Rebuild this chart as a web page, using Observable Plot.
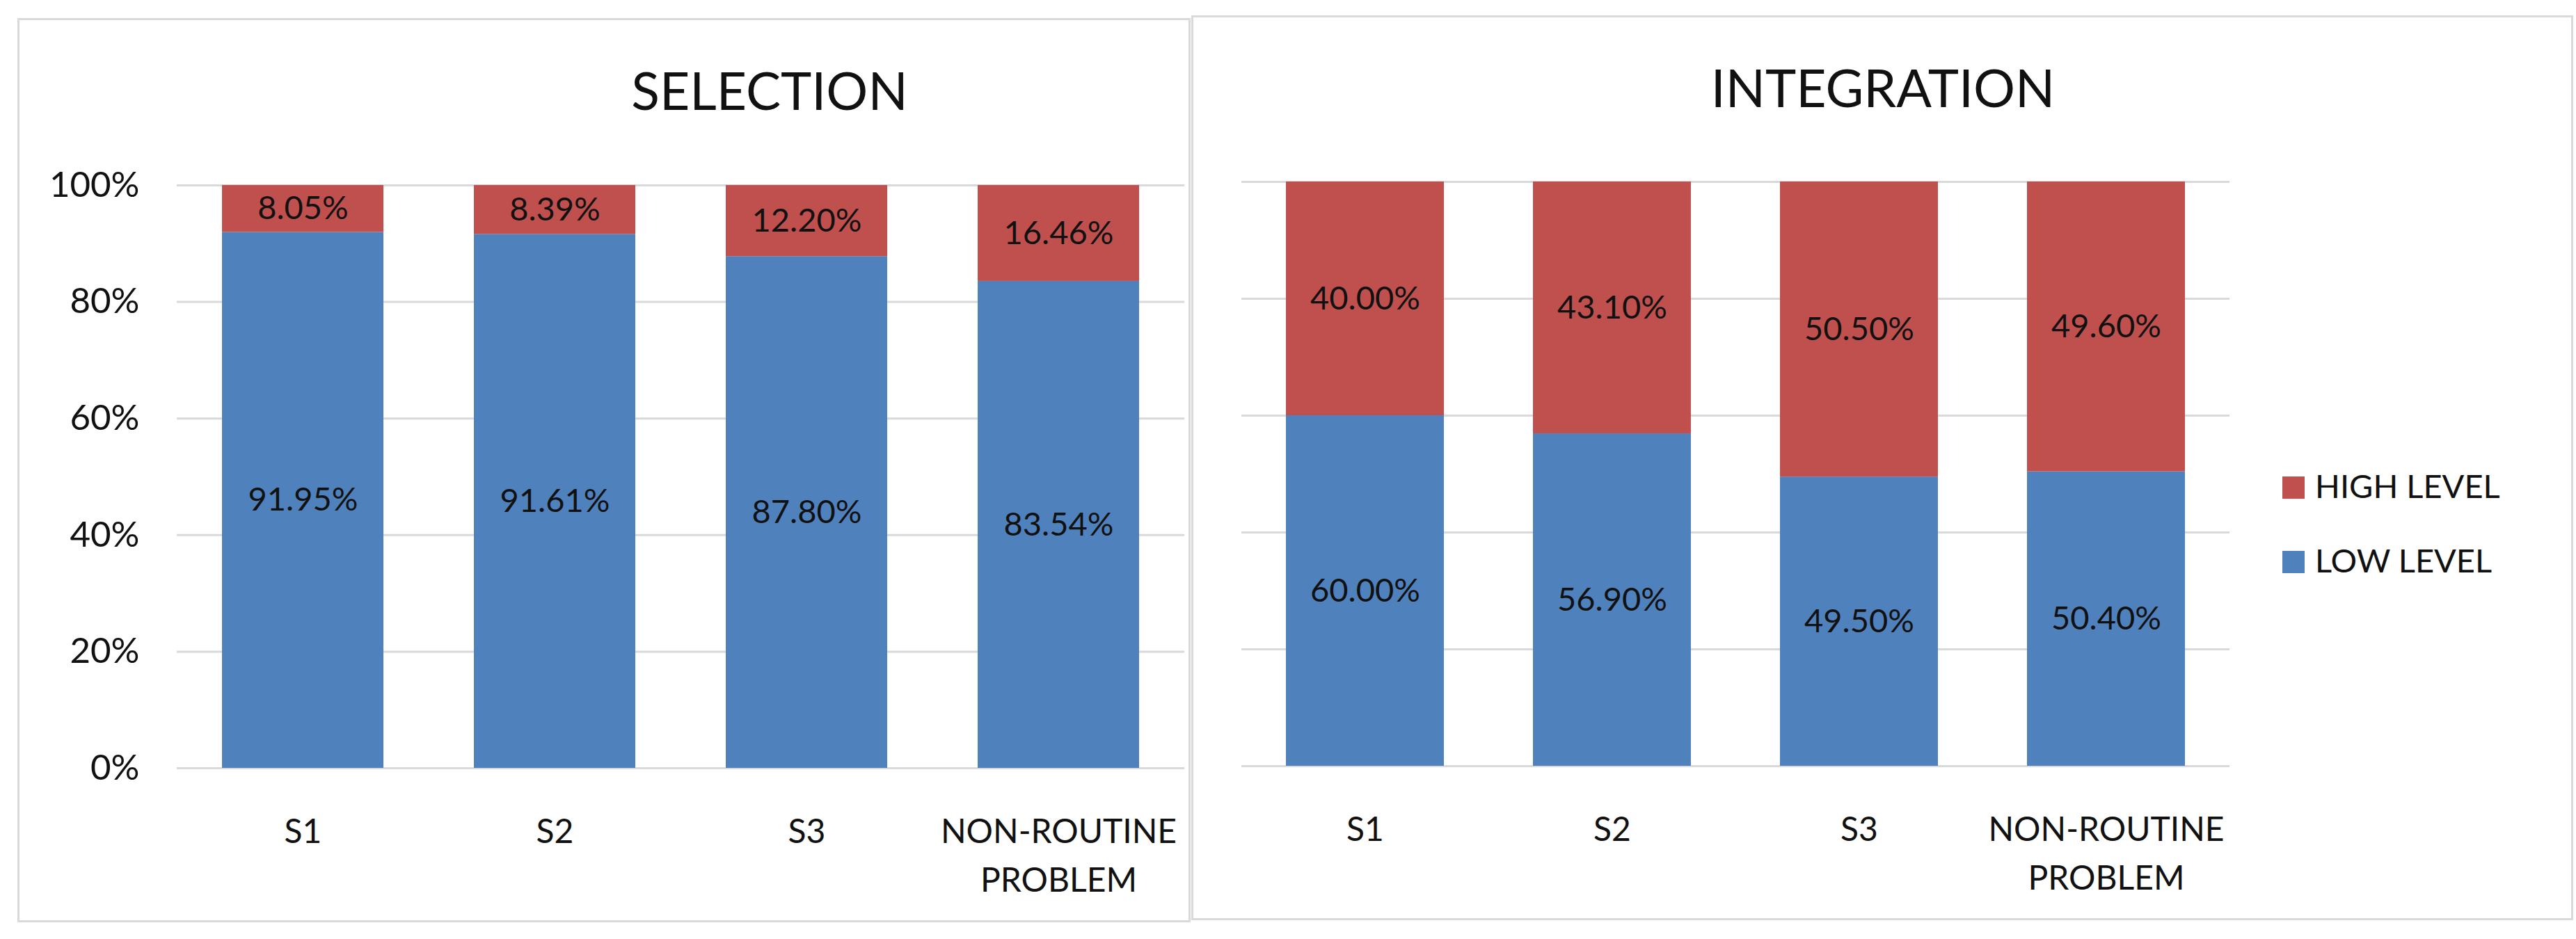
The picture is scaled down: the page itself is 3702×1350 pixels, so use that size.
<!DOCTYPE html>
<html>
<head>
<meta charset="utf-8">
<script src="https://cdn.jsdelivr.net/npm/d3@7"></script>
<script src="https://cdn.jsdelivr.net/npm/@observablehq/plot@0.6"></script>
<style>
  html, body { margin: 0; padding: 0; background: #ffffff; }
  #page { position: relative; width: 3702px; height: 1350px; overflow: hidden; background: #fff; font-family: Lato, "Open Sans", sans-serif; }
  .panel { position: absolute; box-sizing: border-box; border: 3px solid #d9d9d9; background: #fff; }
  .chart { position: absolute; }
  .title { position: absolute; text-align: center; font-size: 75px; line-height: 75px; color: #111; white-space: nowrap; }
  .lg-sw { position: absolute; width: 32px; height: 32px; }
  .lg-tx { position: absolute; font-size: 47px; line-height: 47px; color: #111; white-space: nowrap; }
</style>
</head>
<body>
<div id="page"></div>
<script>
// ---- data ----
const categories = ["S1", "S2", "S3", "NON-ROUTINE PROBLEM"];
const tickLabels = ["S1", "S2", "S3", "NON-ROUTINE\nPROBLEM"];
const levels = ["LOW LEVEL", "HIGH LEVEL"];
const levelColors = ["#4F81BD", "#C0504D"];
const selectionLow = [91.95, 91.61, 87.80, 83.54];
const selectionHigh = [8.05, 8.39, 12.20, 16.46];
const integrationLow = [60.00, 56.90, 49.50, 50.40];
const integrationHigh = [40.00, 43.10, 50.50, 49.60];
const yTicks = [0, 20, 40, 60, 80, 100];
const titles = ["SELECTION", "INTEGRATION"];
const legendOrder = ["HIGH LEVEL", "LOW LEVEL"];

function buildTable(low, high) {
  const rows = [];
  categories.forEach((c, i) => {
    rows.push({category: c, level: levels[0], value: low[i]});
    rows.push({category: c, level: levels[1], value: high[i]});
  });
  return rows;
}

function chart(low, high, o) {
  const data = buildTable(low, high);
  const marks = [
    Plot.gridY(yTicks, {stroke: "#d9d9d9", strokeWidth: 3, strokeOpacity: 1}),
    Plot.barY(data, Plot.stackY({x: "category", y: "value", z: "level", fill: "level"})),
    Plot.textY(data, Plot.stackY({x: "category", y: "value", z: "level",
      text: d => d.value.toFixed(2) + "%", fill: "#111", fontSize: 47})),
    Plot.axisX({tickSize: 0, tickPadding: 58, fontSize: 48, fill: "#111", lineHeight: 1.46,
      tickFormat: d => tickLabels[categories.indexOf(d)]})
  ];
  if (o.showY) {
    marks.push(Plot.axisY(yTicks, {tickSize: 0, tickPadding: 54, fontSize: 51, fill: "#111",
      tickFormat: d => d + "%"}));
  }
  return Plot.plot({
    width: o.width, height: o.height,
    marginLeft: o.ml, marginRight: o.mr, marginTop: o.mt, marginBottom: o.mb,
    style: {fontFamily: "Lato, 'Open Sans', sans-serif", background: "transparent", overflow: "visible", color: "#111"},
    x: {domain: categories, paddingInner: 0.36, paddingOuter: 0.18, label: null},
    y: {domain: [0, 100], label: null, axis: o.showY ? undefined : null},
    color: {domain: levels, range: levelColors},
    marks
  });
}

const page = document.getElementById("page");

function place(el, left, top) {
  el.style.position = "absolute";
  el.style.left = left + "px";
  el.style.top = top + "px";
  page.appendChild(el);
}

// panels
const p1 = document.createElement("div"); p1.className = "panel";
p1.style.width = "1686px"; p1.style.height = "1300px"; place(p1, 25, 26);
const p2 = document.createElement("div"); p2.className = "panel";
p2.style.width = "1986px"; p2.style.height = "1301px"; place(p2, 1712, 22);

// charts
const c1 = chart(selectionLow, selectionHigh, {width: 1686, height: 1299, ml: 229, mr: 9, mt: 240, mb: 221, showY: true});
place(c1, 25, 26);
const c2 = chart(integrationLow, integrationHigh, {width: 1984, height: 1300, ml: 71, mr: 493, mt: 239, mb: 221, showY: false});
place(c2, 1713, 22);

// titles
const t1 = document.createElement("div"); t1.className = "title"; t1.textContent = titles[0];
t1.style.width = "1000px"; place(t1, 1106 - 500, 92);
const t2 = document.createElement("div"); t2.className = "title"; t2.textContent = titles[1];
t2.style.width = "1000px"; place(t2, 2706 - 500, 88);

// legend
legendOrder.forEach((lv, i) => {
  const sw = document.createElement("div"); sw.className = "lg-sw";
  sw.style.background = levelColors[levels.indexOf(lv)];
  place(sw, 3280, 685 + i * 107);
  const tx = document.createElement("div"); tx.className = "lg-tx"; tx.textContent = lv;
  place(tx, 3327, 675 + i * 107);
});
</script>
</body>
</html>
